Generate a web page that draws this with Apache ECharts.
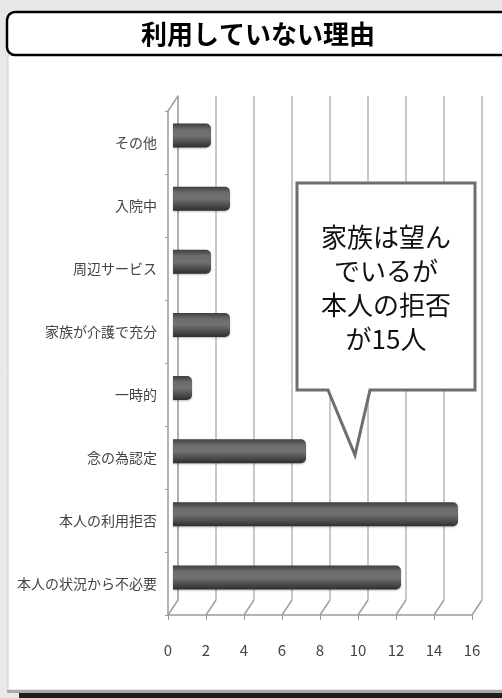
<!DOCTYPE html>
<html>
<head>
<meta charset="utf-8">
<script src="https://cdn.jsdelivr.net/npm/echarts@6/dist/echarts.min.js"></script>
<style>
  html, body { margin: 0; padding: 0; background: #e8e8e8; }
  #chart { width: 502px; height: 698px; }
</style>
</head>
<body>
<div id="chart"></div>
<script>
// Reasons for not using the service (top to bottom)
const categories = [
  'その他',
  '入院中',
  '周辺サービス',
  '家族が介護で充分',
  '一時的',
  '念の為認定',
  '本人の利用拒否',
  '本人の状況から不必要'
];
const counts = [2, 3, 2, 3, 1, 7, 15, 12];
const xTicks = [0, 2, 4, 6, 8, 10, 12, 14, 16];
const titleText = '利用していない理由';
const refusalIndex = 6;
const calloutLines = ['家族は望ん', 'でいるが', '本人の拒否', 'が' + counts[refusalIndex] + '人'];

const FONT = '"Noto Sans CJK JP", "Noto Sans", sans-serif';
const DEPTH_X = 10, DEPTH_Y = -15;

const chart = echarts.init(document.getElementById('chart'), null, { renderer: 'canvas' });

const barGradient = new echarts.graphic.LinearGradient(0, 0, 0, 1, [
  { offset: 0, color: '#3e3e3e' },
  { offset: 0.25, color: '#6c6c6c' },
  { offset: 0.5, color: '#717171' },
  { offset: 0.8, color: '#4a4a4a' },
  { offset: 1, color: '#2e2e2e' }
]);

chart.setOption({
  animation: false,
  backgroundColor: 'transparent',
  grid: [
    // front plane: axis lines and labels
    { left: 168, right: 30, top: 111, bottom: 83 },
    // back wall: vertical gridlines
    { left: 178, right: 20, top: 96, bottom: 98 },
    // mid depth: bars
    { left: 173, right: 25, top: 104, bottom: 89 }
  ],
  xAxis: [
    {
      gridIndex: 0, type: 'value', min: 0, max: 16, interval: 2,
      axisLine: { show: true, lineStyle: { color: '#9a9a9a', width: 1.5 } },
      axisTick: { show: true, length: 5, lineStyle: { color: '#9a9a9a' } },
      axisLabel: { color: '#444', fontSize: 15, fontFamily: FONT, margin: 28 },
      splitLine: { show: false }
    },
    {
      gridIndex: 1, type: 'value', min: 0, max: 16, interval: 2,
      axisLine: { show: false }, axisTick: { show: false }, axisLabel: { show: false },
      splitLine: { show: true, lineStyle: { color: '#c8c8c8', width: 2 } }
    },
    {
      gridIndex: 2, type: 'value', min: 0, max: 16, interval: 2, show: false
    }
  ],
  yAxis: [
    {
      gridIndex: 0, type: 'category', data: categories, inverse: true,
      axisLine: { show: true, lineStyle: { color: '#9a9a9a', width: 1.5 } },
      axisTick: { show: true, length: 3, lineStyle: { color: '#9a9a9a' } },
      axisLabel: { color: '#444', fontSize: 14, fontFamily: FONT, margin: 11 }
    },
    {
      gridIndex: 1, type: 'value', min: 0, max: 1,
      axisLine: { show: true, lineStyle: { color: '#a8a8a8', width: 1.5 } },
      axisTick: { show: false }, axisLabel: { show: false }, splitLine: { show: false }
    },
    {
      gridIndex: 2, type: 'category', data: categories, inverse: true, show: false
    }
  ],
  series: [
    {
      // floor edges joining front ticks to the back wall
      type: 'custom',
      xAxisIndex: 0, yAxisIndex: 0,
      data: xTicks,
      silent: true,
      z: 1,
      renderItem: function (params, api) {
        const x = api.coord([api.value(0), 0])[0];
        const y = params.coordSys.y + params.coordSys.height;
        return {
          type: 'line',
          shape: { x1: x, y1: y, x2: x + DEPTH_X, y2: y + DEPTH_Y },
          style: { stroke: '#a0a0a0', lineWidth: 1.5 }
        };
      }
    },
    {
      // top-left edge of the side wall
      type: 'custom',
      xAxisIndex: 0, yAxisIndex: 0,
      data: [0],
      silent: true,
      z: 1,
      renderItem: function (params, api) {
        const x = api.coord([api.value(0), 0])[0];
        const y = params.coordSys.y;
        return {
          type: 'line',
          shape: { x1: x, y1: y, x2: x + DEPTH_X, y2: y + DEPTH_Y },
          style: { stroke: '#a0a0a0', lineWidth: 1.5 }
        };
      }
    },
    {
      type: 'bar',
      xAxisIndex: 2, yAxisIndex: 2,
      data: counts,
      barWidth: 24,
      z: 3,
      itemStyle: {
        color: barGradient,
        borderRadius: [0, 5, 5, 0],
        shadowColor: 'rgba(0,0,0,0.25)',
        shadowBlur: 2,
        shadowOffsetY: 1
      }
    }
  ],
  graphic: [
    // white panel
    { type: 'rect', z: -100, shape: { x: 8, y: 55, width: 500, height: 635 },
      style: { fill: '#ffffff', stroke: '#cfcfcf', lineWidth: 1 } },
    // bottom shadow edge
    { type: 'rect', z: -100, shape: { x: 7, y: 690, width: 500, height: 3 },
      style: { fill: '#a9a9a9' } },
    { type: 'rect', z: -100, shape: { x: 19, y: 693, width: 490, height: 6 },
      style: { fill: '#1e1e1e' } },
    // title box
    { type: 'rect', z: 50, shape: { x: 7, y: 12, width: 510, height: 43, r: 8 },
      style: { fill: '#ffffff', stroke: '#000000', lineWidth: 2.5 } },
    { type: 'text', z: 51, x: 258, y: 34,
      style: { text: titleText, fill: '#000', font: 'bold 26px ' + FONT, align: 'center', verticalAlign: 'middle' } },
    // callout
    { type: 'polygon', z: 60,
      shape: { points: [[297, 183], [475, 183], [475, 390], [370, 390], [355, 455], [328, 390], [297, 390]] },
      style: { fill: '#ffffff', stroke: '#6e6e6e', lineWidth: 3, lineJoin: 'miter' } },
    { type: 'text', z: 61, x: 386, y: 288,
      style: { text: calloutLines.join('\n'), fill: '#111', font: '26px ' + FONT,
               align: 'center', verticalAlign: 'middle', lineHeight: 34 } }
  ]
});
</script>
</body>
</html>
